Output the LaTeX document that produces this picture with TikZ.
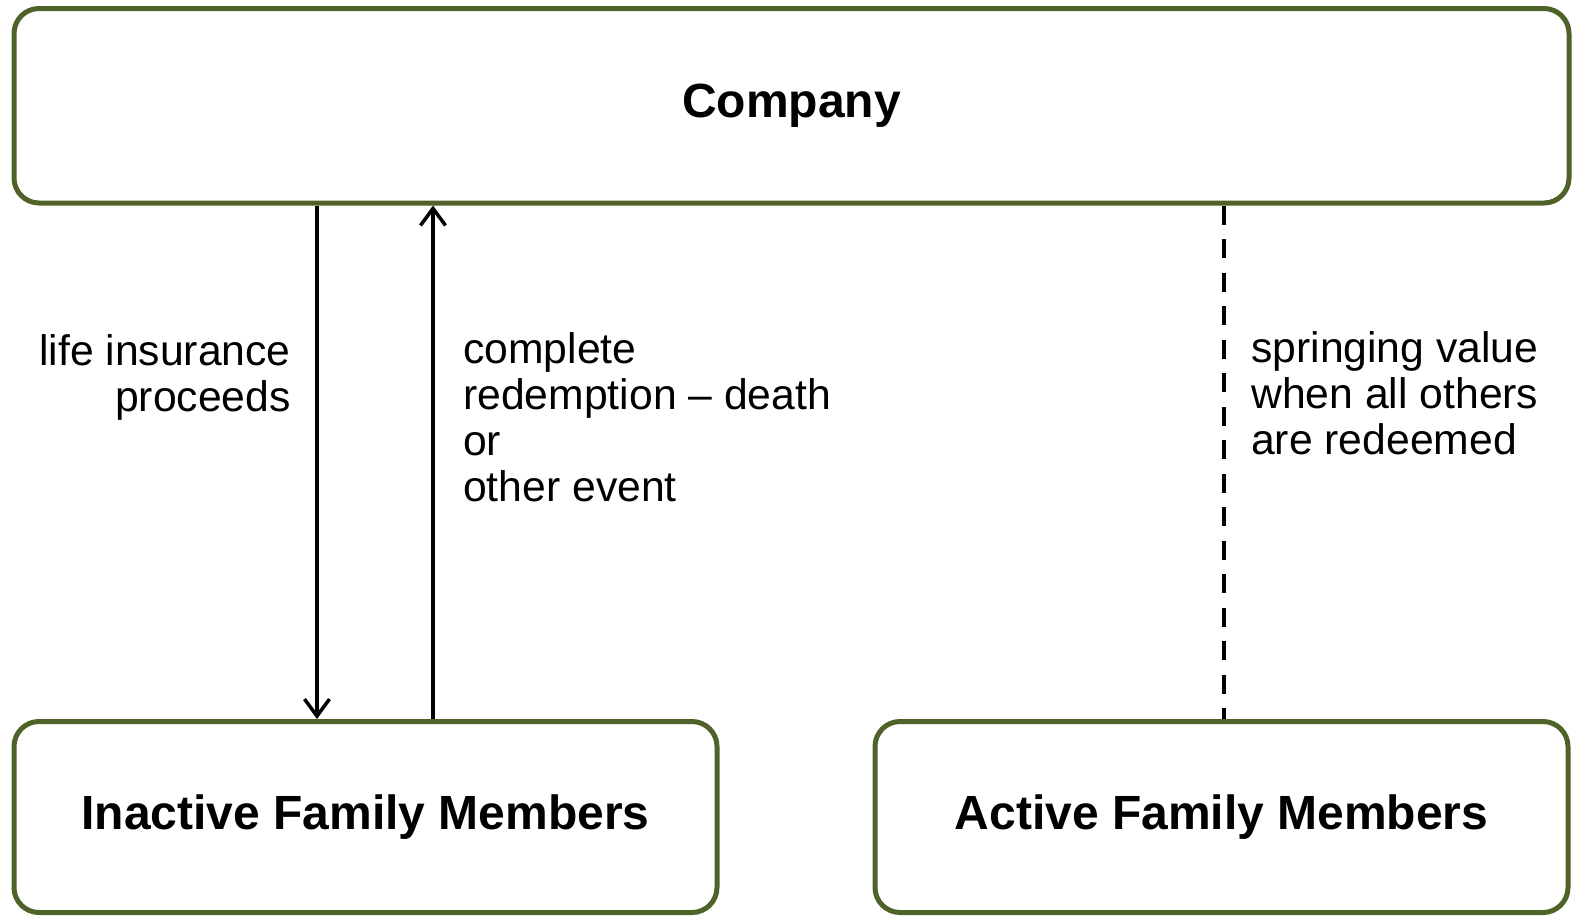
\documentclass[tikz,border=0pt]{standalone}
\usepackage{fontspec}
\setmainfont{Liberation Sans}
\usetikzlibrary{arrows.meta}
\definecolor{boxgreen}{RGB}{79,98,40}
\begin{document}
\begin{tikzpicture}[x=1pt,y=-1pt,
  entity/.style={draw=boxgreen, line width=5pt, rounded corners=25pt, fill=white,
    inner sep=0pt, font=\fontsize{48}{54}\selectfont\bfseries},
  flow/.style={line width=3.5pt, -{Straight Barb[length=17pt,width=25pt,line width=3.5pt]}},
  springing/.style={line width=4pt, dash pattern=on 19pt off 14.5pt},
  note/.style={inner sep=0pt, font=\fontsize{42.7}{46}\selectfont}]
  \useasboundingbox (0,0) rectangle (1573,916);

  % the three parties
  \node[entity, minimum width=1555pt, minimum height=194.5pt] (company) at (791.5,105.75) {Company};
  \node[entity, minimum width=703pt, minimum height=191pt] (inactive) at (365.5,817) {Inactive Family Members};
  \node[entity, minimum width=693pt, minimum height=191pt] (active) at (1221.5,817) {Active Family Members};

  % columns of the connectors
  \coordinate (proceedsx) at (317,0);
  \coordinate (redeemx) at (433,0);
  \coordinate (springx) at (1224,0);

  \draw[flow] (company.south -| proceedsx) -- (inactive.north -| proceedsx);
  \draw[flow] (inactive.north -| redeemx) -- (company.south -| redeemx);
  \draw[springing] (company.south -| springx) -- (active.north -| springx);

  % connector labels
  \node[note, anchor=north east, align=right] (proceedslbl) at (291,334) {life insurance\\proceeds};
  \node[note, anchor=north west, align=left] (redeemlbl) at (463,332) {complete\\redemption \textendash{} death\\or\\other event};
  \node[note, anchor=north west, align=left] (springlbl) at (1251,331) {springing value\\when all others\\are redeemed};
\end{tikzpicture}
\end{document}
